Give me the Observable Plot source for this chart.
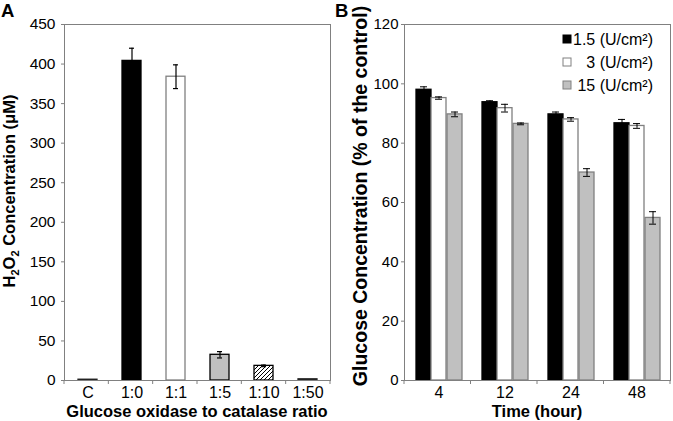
<!DOCTYPE html>
<html>
<head>
<meta charset="utf-8">
<script src="https://cdn.jsdelivr.net/npm/d3@7"></script>
<script src="https://cdn.jsdelivr.net/npm/@observablehq/plot@0.6"></script>
<style>
  html, body { margin: 0; padding: 0; background: #fff; }
  #wrap { display: flex; width: 673px; height: 421px; font-family: "Liberation Sans", Arial, sans-serif; }
  #wrap svg { display: block; overflow: visible; }
</style>
</head>
<body>
<div id="wrap"><div id="pa"></div><div id="pb"></div></div>
<script>
// ---------- Panel A data ----------
const ratios = ["C", "1:0", "1:1", "1:5", "1:10", "1:50"];
const h2o2 = [1, 404, 384, 32.5, 18.5, 1.5];
const h2o2Err = [0, 16, 15, 4, 1, 0];
const yTicksA = [0, 50, 100, 150, 200, 250, 300, 350, 400, 450];

// ---------- Panel B data ----------
const hours = ["4", "12", "24", "48"];
const seriesNames = ["1.5 (U/cm²)", "3 (U/cm²)", "15 (U/cm²)"];
const glu15 = [98.0, 93.8, 89.7, 86.7];
const glu15Err = [1.0, 0.5, 0.8, 1.3];
const glu3 = [95.2, 91.8, 88.0, 85.8];
const glu3Err = [0.4, 1.3, 0.6, 0.8];
const glu150 = [89.7, 86.5, 70.1, 54.8];
const glu150Err = [0.8, 0.3, 1.3, 2.1];
const yTicksB = [0, 20, 40, 60, 80, 100, 120];

// ---------- styles ----------
const AX = "#808080";
const fillA = {"C": "#222", "1:0": "#000", "1:1": "#fff", "1:5": "#c0c0c0", "1:10": "url(#hatchA)", "1:50": "#222"};
const strokeA = {"C": "#222", "1:0": "#000", "1:1": "#808080", "1:5": "#000", "1:10": "#000", "1:50": "#222"};
const fillB = ["#000", "#fff", "#c0c0c0"];
const strokeB = ["#000", "#808080", "#808080"];
const font = "Liberation Sans, Arial, sans-serif";

const dataA = ratios.map((c, i) => ({cat: c, v: h2o2[i], e: h2o2Err[i]}));
const errA = dataA.filter(d => d.e > 0);

const W_A = 336, W_B = 337, H = 421;
const mA = {l: 64, r: 6, t: 24, b: 41};
const mB = {l: 68, r: 3, t: 24, b: 41};

function bandOpts(bw, step) {
  const pi = 1 - bw / step;
  return {paddingInner: pi, paddingOuter: pi / 2};
}

// ---------- Panel A ----------
const plotWA = W_A - mA.l - mA.r;
const pA = bandOpts(19, plotWA / ratios.length);
const chartA = Plot.plot({
  width: W_A, height: H,
  marginLeft: mA.l, marginRight: mA.r, marginTop: mA.t, marginBottom: mA.b,
  style: {fontFamily: font, fontSize: "15.5px", color: "#000", background: "#fff", overflow: "visible"},
  color: {type: "identity"},
  x: {domain: ratios, ...pA, label: null, tickSize: 0, tickPadding: 6, axis: "bottom"},
  y: {domain: [0, 450], ticks: yTicksA, tickSize: 3, tickPadding: 6, label: null},
  marks: [
    Plot.barY(dataA, {x: "cat", y: "v", fill: d => fillA[d.cat], stroke: d => strokeA[d.cat], strokeWidth: 1.3}),
    Plot.ruleX(errA, {x: "cat", y1: d => d.v - d.e, y2: d => d.v + d.e, stroke: "#000", strokeWidth: 1.2}),
    Plot.tickY(errA, {x: "cat", y: d => d.v + d.e, stroke: "#000", strokeWidth: 1.2, inset: 7}),
    Plot.tickY(errA, {x: "cat", y: d => d.v - d.e, stroke: "#000", strokeWidth: 1.2, inset: 7}),
    Plot.frame({stroke: AX, strokeWidth: 1})
  ]
});

// ---------- Panel B ----------
const plotWB = W_B - mB.l - mB.r;
const barW = 15;
const pB = bandOpts(barW, plotWB / hours.length);
const seriesVals = [glu15, glu3, glu150];
const seriesErrs = [glu15Err, glu3Err, glu150Err];
const marksB = [];
seriesVals.forEach((vals, s) => {
  const data = hours.map((h, i) => ({t: h, v: vals[i], e: seriesErrs[s][i]}));
  const dx = (s - 1) * barW + (s === 2 ? 1 : 0);
  marksB.push(
    Plot.barY(data, {x: "t", y: "v", dx, fill: fillB[s], stroke: strokeB[s], strokeWidth: 1.3}),
    Plot.ruleX(data, {x: "t", y1: d => d.v - d.e, y2: d => d.v + d.e, dx, stroke: "#000", strokeWidth: 1}),
    Plot.tickY(data, {x: "t", y: d => d.v + d.e, dx, stroke: "#000", strokeWidth: 1, inset: 4}),
    Plot.tickY(data, {x: "t", y: d => d.v - d.e, dx, stroke: "#000", strokeWidth: 1, inset: 4})
  );
});
const chartB = Plot.plot({
  width: W_B, height: H,
  marginLeft: mB.l, marginRight: mB.r, marginTop: mB.t, marginBottom: mB.b,
  style: {fontFamily: font, fontSize: "15px", color: "#000", background: "#fff", overflow: "visible"},
  x: {domain: hours, ...pB, label: null, tickSize: 0, tickPadding: 6, axis: "bottom"},
  y: {domain: [0, 120], ticks: yTicksB, tickSize: 3, tickPadding: 3, label: null},
  marks: [...marksB, Plot.frame({stroke: AX, strokeWidth: 1})]
});

document.getElementById("pa").appendChild(chartA);
document.getElementById("pb").appendChild(chartB);

// ---------- decorations built from the scales ----------
function decorate(chart, m, n, xTitle, panel) {
  const svg = d3.select(chart);
  svg.selectAll('[aria-label^="x-axis"] text').style("font-size", "16px");
  svg.selectAll('[aria-label^="y-axis"] path, [aria-label^="y-axis"] line').attr("stroke", AX);
  // boundary ticks between categories
  const xs = chart.scale("x");
  const [r0, r1] = xs.range;
  const y0 = H - m.b;
  const g = svg.append("g").attr("stroke", AX);
  for (let i = 0; i <= n; i++) {
    const x = r0 + i * (r1 - r0) / n;
    g.append("line").attr("x1", x).attr("x2", x).attr("y1", y0).attr("y2", y0 + 4);
  }
  // x title
  svg.append("text").attr("x", (r0 + r1) / 2).attr("y", 417)
    .attr("text-anchor", "middle").attr("font-weight", "bold").attr("font-size", panel.xs)
    .attr("font-family", font).attr("fill", "#000").text(xTitle);
  // panel letter
  svg.append("text").attr("x", panel.x).attr("y", 17).attr("font-weight", "bold")
    .attr("text-anchor", "start")
    .attr("font-size", 18.5).attr("font-family", font).attr("fill", "#000").text(panel.t);
  return svg;
}

const svgA = decorate(chartA, mA, ratios.length, "Glucose oxidase to catalase ratio", {x: 1, t: "A", xs: 16.5});
const svgB = decorate(chartB, mB, hours.length, "Time (hour)", {x: -1, t: "B", xs: 16.5});

// hatch pattern
const pat = svgA.insert("defs", ":first-child").append("pattern")
  .attr("id", "hatchA").attr("patternUnits", "userSpaceOnUse").attr("width", 4).attr("height", 4);
pat.append("rect").attr("width", 4).attr("height", 4).attr("fill", "#fff");
pat.append("path").attr("d", "M-1,1 l2,-2 M0,4 l4,-4 M3,5 l2,-2").attr("stroke", "#000").attr("stroke-width", 1);

// y titles
const yaT = svgA.append("text").attr("transform", `translate(15,191) rotate(-90)`)
  .attr("text-anchor", "middle").attr("font-weight", "bold").attr("font-size", 16.5)
  .attr("font-family", font).attr("fill", "#000");
yaT.append("tspan").text("H");
yaT.append("tspan").attr("font-size", 11).attr("dy", 4).text("2");
yaT.append("tspan").attr("dy", -4).text("O");
yaT.append("tspan").attr("font-size", 11).attr("dy", 4).text("2");
yaT.append("tspan").attr("dy", -4).text(" Concentration (μM)");

svgB.append("text").attr("transform", `translate(${367 - 336},196) rotate(-90)`)
  .attr("text-anchor", "middle").attr("font-weight", "bold").attr("font-size", 19.5)
  .attr("font-family", font).attr("fill", "#000").text("Glucose Concentration (% of the control)");

// legend (panel B)
const lg = svgB.append("g").attr("font-family", font).attr("font-size", 16);
const textRight = 653 - 336;
const texts = seriesNames.map((name, s) =>
  lg.append("text").attr("x", textRight).attr("y", 45 + s * 23).attr("text-anchor", "end")
    .attr("fill", "#000").text(name));
const minStart = d3.min(texts, t => textRight - t.node().getComputedTextLength());
seriesNames.forEach((name, s) => {
  const base = 45 + s * 23;
  lg.append("rect").attr("x", minStart - 10).attr("y", base - 10).attr("width", 8).attr("height", 8)
    .attr("fill", fillB[s]).attr("stroke", s === 0 ? "#000" : AX);
});
</script>
</body>
</html>
